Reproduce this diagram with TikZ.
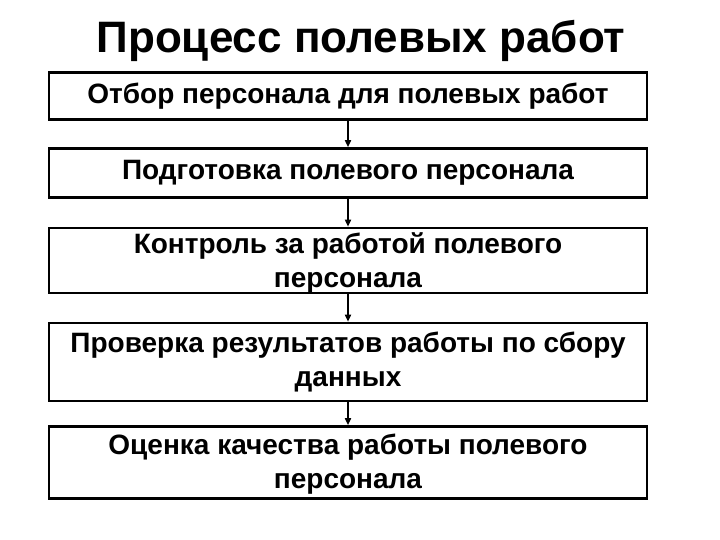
\documentclass[tikz,border=0pt]{standalone}
\usepackage{fontspec}
\setmainfont{Liberation Sans}
\usetikzlibrary{positioning}
\usetikzlibrary{arrows.meta}

\tikzset{
    etap/.style={draw, line width=2.6pt, minimum width=598pt, align=center,
        font=\fontsize{28}{34}\selectfont\bfseries, inner sep=0pt},
    dvestroki/.style={text height=#1, text depth=5pt},
    strelka/.style={line width=1.6pt, -{Triangle[length=7pt,width=6pt]}}
}

\begin{document}
\begin{tikzpicture}[x=1pt,y=-1pt]
            \useasboundingbox (0,0) rectangle (720,540);

            \node[font=\fontsize{44}{50}\selectfont\bfseries] (titul) at (361,41) {Процесс полевых работ};

            \node[etap, minimum height=47pt] (otbor) at (348,96) {Отбор персонала для полевых работ};
            \node[etap, minimum height=49pt] (podgot) at (348,173) {Подготовка полевого персонала};
            \node[etap, dvestroki=59pt, minimum height=65pt] (kontrol) at (348,260.5) {Контроль за работой полевого\\персонала};
            \node[etap, dvestroki=53pt, minimum height=78pt] (proverka) at (348,362) {Проверка результатов работы по сбору\\данных};
            \node[etap, dvestroki=56pt, minimum height=72pt] (ocenka) at (348,462.5) {Оценка качества работы полевого\\персонала};

            \draw[strelka] (otbor) -- (podgot);
            \draw[strelka] (podgot) -- (kontrol);
            \draw[strelka] (kontrol) -- (proverka);
            \draw[strelka] (proverka) -- (ocenka);
        \end{tikzpicture}
\end{document}
